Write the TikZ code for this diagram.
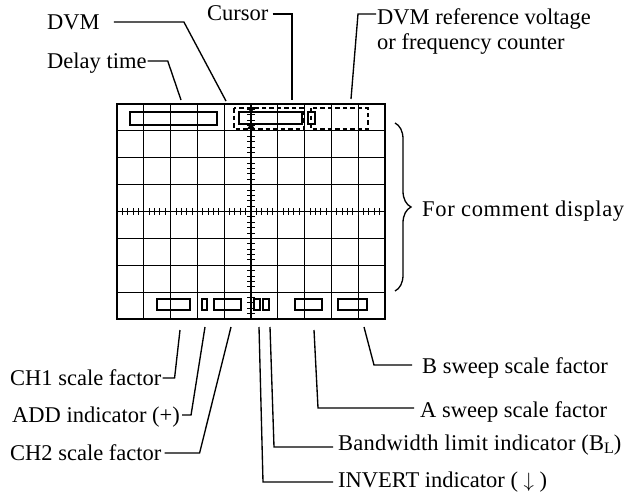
\documentclass[tikz,border=0pt]{standalone}
\usepackage{fontspec}
\setmainfont{Liberation Serif}
\newfontfamily\widefont{Liberation Serif}[LetterSpace=3]
\newfontfamily\semiwidefont{Liberation Serif}[LetterSpace=1]
\usetikzlibrary{decorations.pathreplacing}
\begin{document}
\begin{tikzpicture}[x=1pt,y=-1pt,
  font=\fontsize{22.5}{26}\selectfont,
  lbl/.style={inner sep=0pt, anchor=base west},
  leader/.style={line width=1.35pt},
  gridline/.style={line width=1.05pt},
  frame/.style={line width=1.5pt},
  tick/.style={line width=0.9pt},
  box/.style={line width=1.2pt},
  dbox/.style={line width=1.2pt, dash pattern=on 4.5pt off 3pt}]
\useasboundingbox (0,0) rectangle (629,495);
% ---------- screen ----------
\foreach \k in {1,...,9} \draw[gridline] ({117+\k*26.8},104) -- ({117+\k*26.8},319);
\foreach \k in {1,...,7} \draw[gridline] (117,{104+\k*26.875}) -- (385,{104+\k*26.875});
\draw[frame] (117,104) rectangle (385,319);
% axis ticks
\foreach \i in {0,...,40} \draw[tick] (247,{104+\i*5.375}) -- (255,{104+\i*5.375});
\foreach \i in {0,...,50} \draw[tick] ({117+\i*5.36},208) -- ({117+\i*5.36},215);
\draw[line width=1.4pt] (251,104) -- (251,319);
\draw[line width=1.4pt] (117,211.5) -- (385,211.5);
% top row readouts
\draw[box] (130,112) rectangle (217,125);
\draw[box] (239,112) rectangle (302,124);
\draw[box] (308,112) rectangle (315,124);
\draw[dbox] (234,108) rectangle (304,129);
\draw[dbox] (311,108) rectangle (368,129);
\fill (247,107) -- (255,107) -- (251,113) -- cycle;
\fill (247,129) -- (255,129) -- (251,123) -- cycle;
% bottom row readouts
\draw[box] (157,299) rectangle (190,310);
\draw[box] (202,299) rectangle (207,310);
\draw[box] (214,299) rectangle (241,310);
\draw[box] (254,299) rectangle (260,310);
\draw[box] (263,299) rectangle (269,310);
\draw[box] (295,299) rectangle (322,310);
\draw[box] (338,299) rectangle (367,310);
% ---------- end points on the screen ----------
\coordinate (pDVM) at (226,101);
\coordinate (pDelay) at (181,100);
\coordinate (pCursor) at (292,100);
\coordinate (pRef) at (351,99);
\coordinate (pCH1) at (180,330);
\coordinate (pADD) at (205,327);
\coordinate (pCH2) at (231,327);
\coordinate (pInv) at (259,327);
\coordinate (pBW) at (270,327);
\coordinate (pA) at (314,330);
\coordinate (pB) at (364,327);
% ---------- labels ----------
\node[lbl] (dvm) at (47,30) {DVM};
\node[lbl] (delay) at (47,68) {Delay time};
\node[lbl] (cursor) at (207,21) {Cursor};
\node[lbl] (ref1) at (377,25) {DVM reference voltage};
\node[lbl] (ref2) at (377,50) {or frequency counter};
\node[lbl] (fcd) at (422,216) {\widefont For comment display};
\node[lbl] (ch1) at (10,385) {CH1 scale factor};
\node[lbl] (add) at (12,422) {ADD indicator (+)};
\node[lbl] (ch2) at (10,460) {CH2 scale factor};
\node[lbl] (bsw) at (422,373) {B sweep scale factor};
\node[lbl] (asw) at (420,417) {A sweep scale factor};
\node[lbl] (bw) at (338,450) {\semiwidefont Bandwidth limit indicator (B\raisebox{-0.35ex}{\fontsize{16}{16}\selectfont L})};
\node[lbl] (inv) at (338,487) {INVERT indicator ( $\downarrow$ )};
% ---------- leaders ----------
\draw[leader] ([xshift=14pt,yshift=8pt]dvm.base east) -- ++(70,0) -- (pDVM);
\draw[leader] ([xshift=1pt,yshift=7pt]delay.base east) -- ++(20,0) -- (pDelay);
\draw[leader] ([xshift=4pt,yshift=7pt]cursor.base east) -| (pCursor);
\draw[leader] ([xshift=-1pt,yshift=11pt]ref1.base west) -- ++(-18,0) -- (pRef);
\draw[leader] ([xshift=1pt,yshift=7pt]ch1.base east) -- ++(12,0) -- (pCH1);
\draw[leader] ([xshift=2pt,yshift=7pt]add.base east) -- ++(9,0) -- (pADD);
\draw[leader] ([xshift=3pt,yshift=7pt]ch2.base east) -- ++(35,0) -- (pCH2);
\draw[leader] ([xshift=-10pt,yshift=8pt]bsw.base west) -- ++(-38,0) -- (pB);
\draw[leader] ([xshift=-6pt,yshift=9pt]asw.base west) -- ++(-96,0) -- (pA);
\draw[leader] ([xshift=-5pt,yshift=3pt]bw.base west) -- ++(-59,0) -- (pBW);
\draw[leader] ([xshift=-5pt,yshift=5pt]inv.base west) -- ++(-70,0) -- (pInv);
% ---------- brace ----------
\draw[line width=1.3pt, decorate, decoration={brace, amplitude=16pt}] (395,123) -- (395,291);
\end{tikzpicture}
\end{document}
